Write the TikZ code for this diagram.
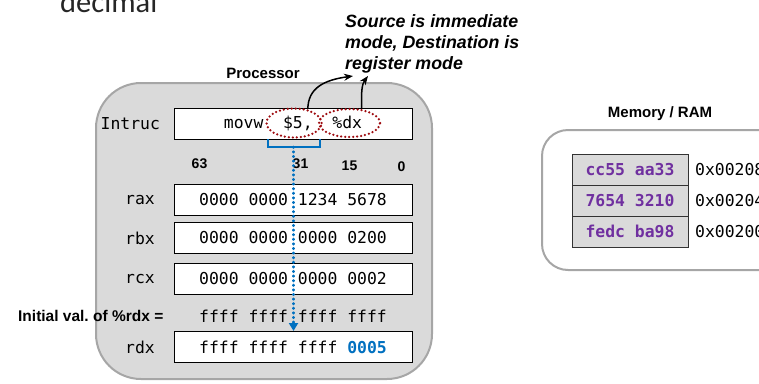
\documentclass[tikz,border=0pt]{standalone}
\usepackage{fontspec}
\setmainfont{Liberation Sans}
\setmonofont{DejaVu Sans Mono}
\newfontfamily\headfont{Carlito}
\usetikzlibrary{arrows.meta,shapes.geometric}

\definecolor{panelgray}{HTML}{DADADA}
\definecolor{edgegray}{HTML}{A6A6A6}
\definecolor{opred}{HTML}{9E0B0F}
\definecolor{hiblue}{HTML}{0070C0}
\definecolor{datapurple}{HTML}{7030A0}
\definecolor{inkdark}{HTML}{262626}

\tikzset{
  panel/.style={draw=edgegray, line width=2pt, fill=panelgray, rounded corners=45pt, inner sep=0pt},
  rampanel/.style={draw=edgegray, line width=2pt, fill=white, rounded corners=26pt, inner sep=0pt},
  regbox/.style={draw=black, line width=1pt, fill=white, minimum width=238pt, minimum height=31pt,
                 inner sep=0pt, font=\ttfamily\fontsize{16.4}{18}\selectfont},
  reglabel/.style={anchor=east, inner sep=0pt, font=\ttfamily\fontsize{16.4}{18}\selectfont},
  plainmono/.style={inner sep=0pt, font=\ttfamily\fontsize{16.4}{18}\selectfont},
  boldlabel/.style={inner sep=0pt, font=\bfseries\fontsize{15}{18}\selectfont},
  bitlabel/.style={inner sep=0pt, font=\bfseries\fontsize{14}{16}\selectfont},
  opring/.style={ellipse, draw=opred, line width=2.5pt, line cap=round,
                 dash pattern=on 0pt off 4pt, inner sep=0pt},
  callarrow/.style={-{Stealth[length=9pt,width=7pt]}, line width=1.5pt, black},
  bracketline/.style={draw=hiblue, line width=2.6pt},
  flowdots/.style={draw=hiblue, line width=2.6pt, line cap=round, dash pattern=on 0.6pt off 4pt,
                   -{Triangle[length=8pt,width=9pt]}},
  memcell/.style={draw=black!80, line width=1pt, fill=panelgray, minimum width=116pt, minimum height=31pt,
                  inner sep=0pt, text=datapurple, font=\ttfamily\bfseries\fontsize{16.4}{18}\selectfont},
}

\begin{document}
\begin{tikzpicture}[x=1pt, y=-1pt]
\useasboundingbox (0,0) rectangle (759,383);
\clip (0,0) rectangle (759,383);

% heading fragment at the top edge
\node[anchor=base west, inner sep=0pt, text=inkdark, font=\headfont\fontsize{30.5}{30}\selectfont] (heading) at (60,12) {decimal};

% ---------------- processor ----------------
\node[boldlabel] (proclabel) at (263,73) {Processor};
\node[panel, minimum width=336pt, minimum height=296pt] (proc) at (264,231) {};

% instruction register
\node[reglabel, anchor=west] (intrlabel) at (100.5,123.5) {Intruc};
\node[regbox] (intr) at (293,123.5) {movw\ \ \$5,\ \ \%dx};

% operand highlights
\node[opring, minimum width=55pt, minimum height=29pt] (src) at (294,123) {};
\node[opring, minimum width=61pt, minimum height=28pt] (dst) at (349.5,123) {};

% callout with operand modes
\node[anchor=north west, inner sep=0pt, align=left,
      font=\bfseries\itshape\fontsize{17.8}{21}\selectfont] (modes) at (345,14)
  {Source is immediate\\mode, Destination is\\register mode};
\coordinate (tipA) at (353,76);
\coordinate (tipB) at (368,76);
\draw[callarrow] (src.45) .. controls (308,88) and (324,80) .. (tipA);
\draw[callarrow] (dst.49) .. controls (361,92) and (362,84) .. (tipB);

% bracket under the immediate operand and the data path
\coordinate (brkL) at (268,139);
\coordinate (brkR) at (320,139);
\coordinate (brk) at (293.5,147);
\draw[bracketline] (brkL) -- (brkL |- brk) -- (brkR |- brk) -- (brkR);

% bit positions
\node[bitlabel] (b63) at (199.5,164) {63};
\node[bitlabel] (b31) at (300.5,164) {31};
\node[bitlabel] (b15) at (349.5,166) {15};
\node[bitlabel] (b0)  at (401.5,167) {0};

% general purpose registers
\node[reglabel] (raxlabel) at (155,200) {rax};
\node[regbox] (rax) at (293,200) {0000 0000 1234 5678};
\node[reglabel] (rbxlabel) at (155,238) {rbx};
\node[regbox] (rbx) at (293,238) {0000 0000 0000 0200};
\node[reglabel] (rcxlabel) at (155,279) {rcx};
\node[regbox] (rcx) at (293,279) {0000 0000 0000 0002};

\node[boldlabel, anchor=east, font=\bfseries\fontsize{15.5}{18}\selectfont] (initlabel) at (163.5,316) {Initial val.\ of \%rdx =};
\node[plainmono] (initval) at (293,316) {ffff ffff ffff ffff};

\node[reglabel] (rdxlabel) at (155,347) {rdx};
\node[regbox] (rdx) at (293,347) {ffff ffff ffff \textcolor{hiblue}{\bfseries 0005}};

\draw[flowdots] (brk) -- (brk |- rdx.north);

% ---------------- memory ----------------
\node[boldlabel] (memlabel) at (660,114) {Memory / RAM};
\node[rampanel, minimum width=260pt, minimum height=140pt] (ram) at (672,200) {};

\node[memcell] (m1) at (630,169.5) {cc55 aa33};
\node[memcell] (m2) at (630,200.5) {7654 3210};
\node[memcell] (m3) at (630,231.5) {fedc ba98};

\node[plainmono, anchor=west] (a1) at (695,169.5) {0x00208};
\node[plainmono, anchor=west] (a2) at (695,200.5) {0x00204};
\node[plainmono, anchor=west] (a3) at (695,231.5) {0x00200};
\end{tikzpicture}
\end{document}
